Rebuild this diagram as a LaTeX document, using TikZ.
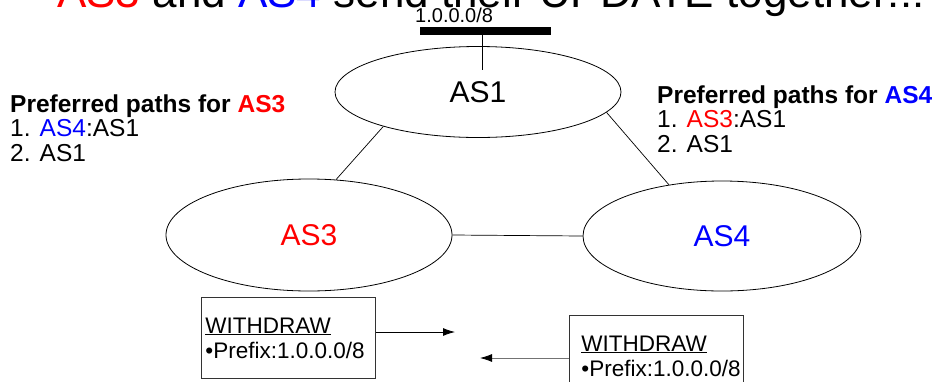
\documentclass[tikz,border=0pt]{standalone}
\usepackage{fontspec}
\setmainfont{Liberation Sans}
\usetikzlibrary{shapes.geometric,arrows.meta}

\tikzset{
    as/.style={draw, ellipse, line width=0.8pt, inner sep=0pt,
        font=\fontsize{30}{30}\selectfont},
    link/.style={line width=0.7pt},
    paths/.style={anchor=base west, inner sep=0pt, align=left,
        font=\fontsize{24.5}{24.5}\selectfont},
    msgbox/.style={draw=black!80, line width=0.9pt, anchor=north west,
        minimum height=81pt, inner ysep=0pt, align=left,
        font=\fontsize{22.5}{25}\selectfont},
    msg/.style={-{Latex[length=12pt,width=8pt,color=black]}, line width=0.8pt},
}

\begin{document}
\begin{tikzpicture}[x=1pt, y=-1pt]
        \clip (0,0) rectangle (943,381);
        \node[anchor=base west, inner sep=0pt, font=\fontsize{44}{44}\selectfont] (title) at (57,7)
            {\textcolor{red}{AS3} and \textcolor{blue}{AS4} send their UPDATE together!!!};

        % the prefix sits on a bar hanging off AS1
        \node[anchor=base west, inner sep=0pt, font=\fontsize{20}{20}\selectfont] (pfx) at (415,22) {1.0.0.0/8};
        \node[fill, minimum width=131pt, minimum height=8pt, inner sep=0pt] (bar) at (485.5,31) {};
        \coordinate (stub) at (482,70);
        \draw[link] (bar.south -| stub) -- (stub);

        \node[as, minimum width=286pt, minimum height=91pt] (as1) at (478,92) {AS1};
        \node[as, minimum width=286pt, minimum height=112pt, text=red] (as3) at (309,235) {AS3};
        \node[as, minimum width=278pt, minimum height=110pt, text=blue] (as4) at (722,236) {AS4};

        \draw[link] (as1.200.6) -- (as3.64.7);
        \draw[link] (as1.351.3) -- (as4.136.1);
        \draw[link] (as3.east) -- (as4.west);

        % base sits on the last line
        \node[paths] (pref3) at (10,161)
            {\textbf{Preferred paths for \textcolor{red}{AS3}}\\ 1. \textcolor{blue}{AS4}:AS1\\ 2. AS1};
        \node[paths] (pref4) at (657,152)
            {\textbf{Preferred paths for \textcolor{blue}{AS4}}\\ 1. \textcolor{red}{AS3}:AS1\\ 2. AS1};

        % withdrawals crossing each other
        \node[msgbox, inner xsep=4pt, text width=166pt] (wd3) at (201,297)
            {\underline{WITHDRAW}\\ \textbullet Prefix:1.0.0.0/8};
        \node[msgbox, inner xsep=12pt, text width=150pt] (wd4) at (569,315)
            {\underline{WITHDRAW}\\ \textbullet Prefix:1.0.0.0/8};
        \coordinate (tip3) at (455,332);
        \coordinate (tip4) at (480,358);
        \draw[msg] (wd3.east |- tip3) -- (tip3);
        \draw[msg, black!55] (wd4.west |- tip4) -- (tip4);
\end{tikzpicture}
\end{document}
